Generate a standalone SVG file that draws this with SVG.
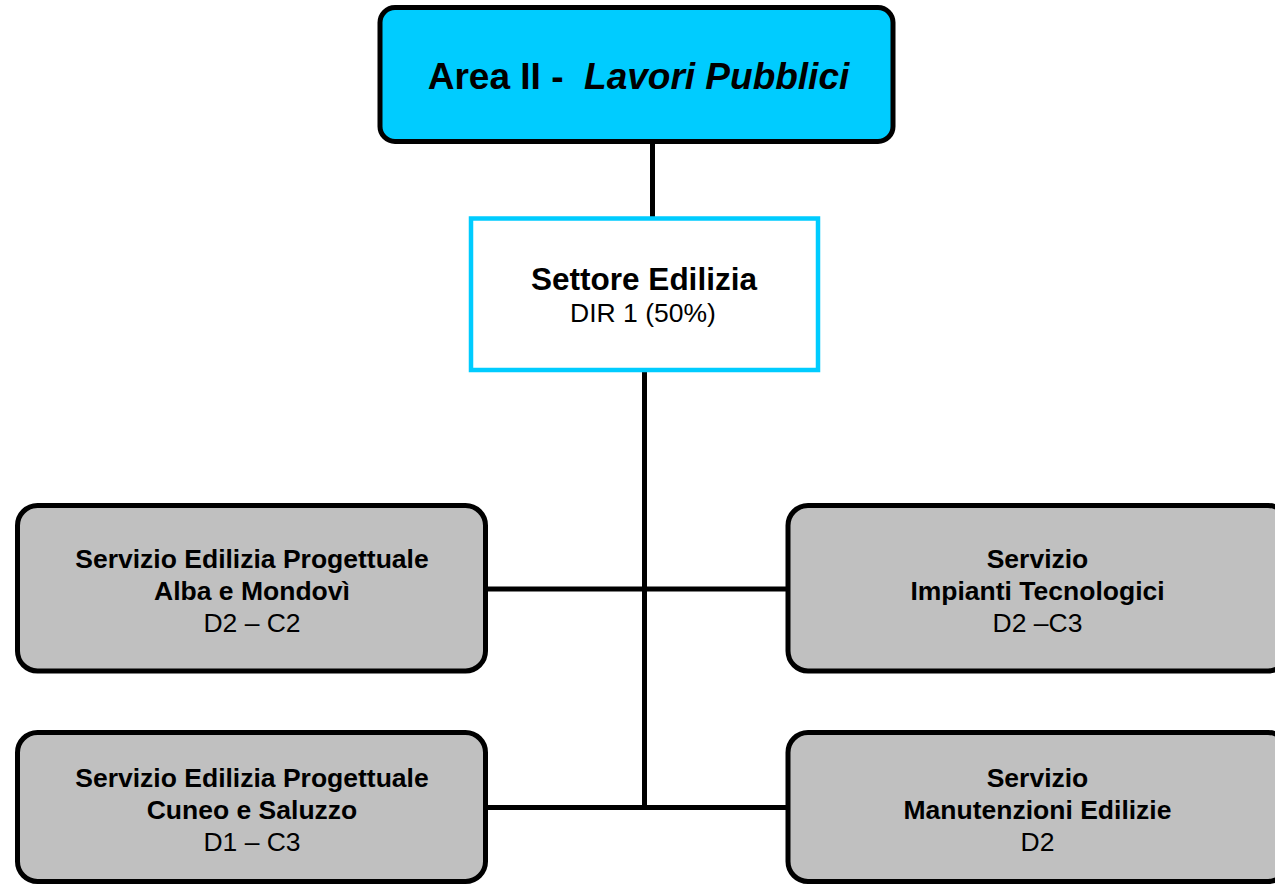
<svg xmlns="http://www.w3.org/2000/svg" width="1275" height="885" viewBox="0 0 1275 885">
<style>
text{font-family:"Liberation Sans",Arial,sans-serif;fill:#000;text-anchor:middle}
.b{font-weight:bold}
.i{font-style:italic}
.svc{fill:#C0C0C0;stroke:#000;stroke-width:5}
.conn{stroke:#000;stroke-width:5;fill:none}
.t{font-size:26.5px}
</style>
<rect width="1275" height="885" fill="#fff"/>
<g id="connectors">
<line class="conn" x1="652.5" y1="142" x2="652.5" y2="218"/>
<line class="conn" x1="644.5" y1="370" x2="644.5" y2="810"/>
<line class="conn" x1="485.5" y1="589" x2="788" y2="589"/>
<line class="conn" x1="485.5" y1="807.5" x2="788" y2="807.5"/>
</g>
<g id="area">
<rect x="380" y="7.5" width="513" height="134" rx="15" fill="#00CCFF" stroke="#000" stroke-width="5"/>
<text x="638.5" y="89" class="b" style="font-size:37px" xml:space="preserve">Area II -  <tspan class="i">Lavori Pubblici</tspan></text>
</g>
<g id="settore">
<rect x="471" y="218.5" width="347" height="151.5" fill="#fff" stroke="#00CCFF" stroke-width="4.5"/>
<text x="644" y="290" class="b" style="font-size:31.5px">Settore Edilizia</text>
<text x="643" y="322" style="font-size:26.5px">DIR 1 (50%)</text>
</g>
<g id="alba">
<rect class="svc" x="17.5" y="505.5" width="468" height="165.5" rx="20"/>
<text x="252" y="567.5" class="t b">Servizio Edilizia Progettuale</text>
<text x="252" y="599.5" class="t b">Alba e Mondovì</text>
<text x="252" y="631.5" class="t">D2 – C2</text>
</g>
<g id="impianti">
<rect class="svc" x="788" y="505.5" width="500" height="165.5" rx="20"/>
<text x="1037.5" y="567.5" class="t b">Servizio</text>
<text x="1037.5" y="599.5" class="t b">Impianti Tecnologici</text>
<text x="1037.5" y="631.5" class="t">D2 –C3</text>
</g>
<g id="cuneo">
<rect class="svc" x="17.5" y="732.5" width="468" height="149" rx="20"/>
<text x="252" y="786.5" class="t b">Servizio Edilizia Progettuale</text>
<text x="252" y="818.5" class="t b">Cuneo e Saluzzo</text>
<text x="252" y="850.5" class="t">D1 – C3</text>
</g>
<g id="manutenzioni">
<rect class="svc" x="788" y="732.5" width="500" height="149" rx="20"/>
<text x="1037.5" y="786.5" class="t b">Servizio</text>
<text x="1037.5" y="818.5" class="t b">Manutenzioni Edilizie</text>
<text x="1037.5" y="850.5" class="t">D2</text>
</g>
</svg>
